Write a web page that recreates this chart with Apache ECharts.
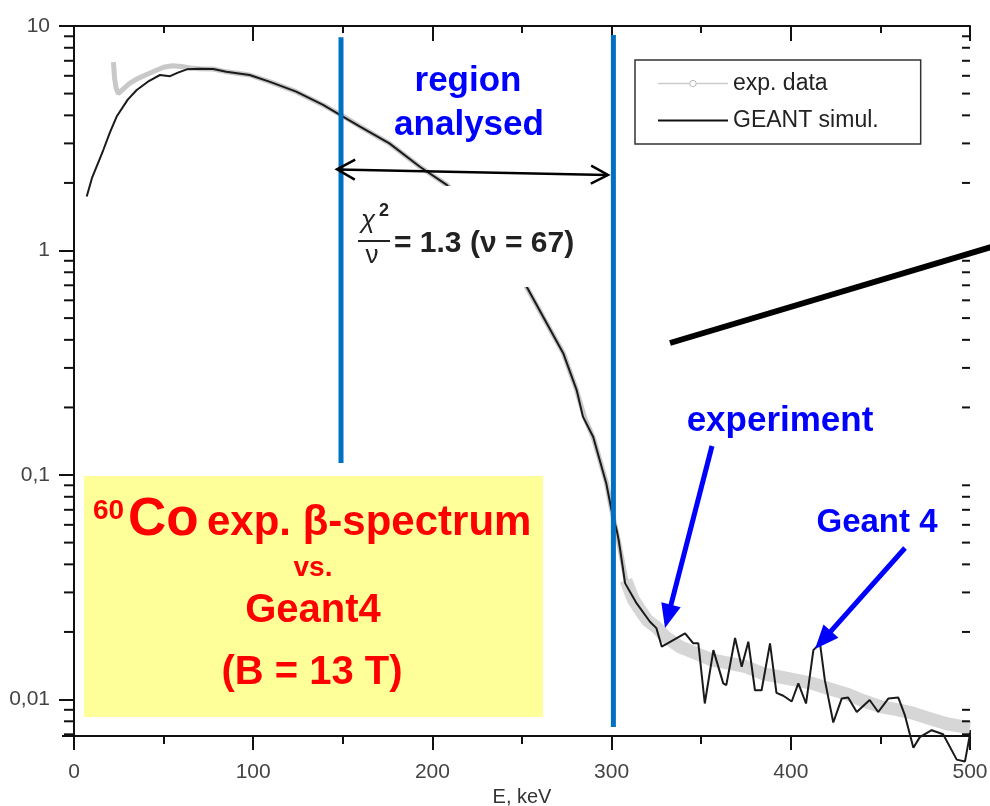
<!DOCTYPE html>
<html><head><meta charset="utf-8">
<script src="https://cdn.jsdelivr.net/npm/echarts@6/dist/echarts.min.js"></script>
<style>html,body{margin:0;padding:0;background:#fff}#c{width:990px;height:806px}</style>
</head><body><div id="c"></div>
<script>
// ---- data ----
const geantE = [7.1,10,16.4,20,23.8,30,35,42,48,53.6,58,63,70,77.7,85,98,109,124,139,148.4,159.6,176,193,208,222,237,252.6,263.8,273,280.5,284,289.7,297,300,303,304,306,307.5,314,321.4,325,328,334.4,341,345.6,348.4,352,356.8,362.3,364,368.9,372.6,376.3,380,383.7,388.4,392,395.8,400.5,404.2,408.5,412.6,416.3,419,423.7,428.4,432,436.8,444,448.8,454.4,460,463.7,468.4,472,478.6,485,492.6,497.2,500.4,505.6];
const geantV = [1.74,2.1,2.81,3.35,3.95,4.7,5.19,5.7,6.05,5.98,6.2,6.41,6.45,6.43,6.25,6.05,5.65,5.1,4.45,4.02,3.56,3.0,2.36,1.96,1.55,1.1,0.69,0.474,0.349,0.239,0.182,0.148,0.092,0.0695,0.056,0.051,0.04,0.033,0.0268,0.0222,0.0208,0.0172,0.0184,0.0197,0.0178,0.0178,0.0096,0.0166,0.0118,0.0116,0.0188,0.014,0.0181,0.011,0.011,0.0178,0.0107,0.0104,0.0098,0.0118,0.0096,0.0166,0.0178,0.0122,0.0079,0.0101,0.0102,0.0088,0.00995,0.0088,0.0101,0.0102,0.0085,0.0061,0.0068,0.0073,0.0070,0.0054,0.0053,0.0073,0.0049];
const expE = [22,22.3,22.7,23.5,24.7,27,31,35,39,45,50,55,60,65,70,77.7,85,98,109,124,139,150,160,176,193,208,222,237,252,264,273,280,285,290,297,300,304,308,312];
const expV = [6.9,6.4,5.8,5.3,5.0,5.2,5.55,5.8,6.0,6.3,6.55,6.65,6.6,6.5,6.45,6.43,6.25,6.05,5.65,5.1,4.45,3.98,3.55,3.0,2.36,1.96,1.55,1.1,0.7,0.47,0.35,0.245,0.18,0.145,0.093,0.07,0.05,0.034,0.028];
const expTailE = [308,312,316,320,325,330,338,346,356,366,375,385,394,403,412,421,431,440,450,460,468,478,487,495,500];
const expTailV = [0.034,0.028,0.025,0.0225,0.021,0.019,0.0172,0.0162,0.015,0.0145,0.014,0.013,0.0126,0.0122,0.0118,0.0112,0.0106,0.0099,0.0093,0.009,0.0087,0.0082,0.0078,0.0076,0.0075];
const yTickLabels = ['0,01','0,1','1','10'];
const yMinorTicks = [0.007,0.008,0.009,0.02,0.03,0.04,0.05,0.06,0.07,0.08,0.09,0.2,0.3,0.4,0.5,0.6,0.7,0.8,0.9,2,3,4,5,6,7,8,9];
const regionE = [149, 301];
const regionLineV = [[8.91, 0.113],[9.12, 0.00755]];
const yMin = 0.00688, yMax = 10;

const FONT = 'Liberation Sans, Arial, sans-serif';
const zip = (a,b) => a.map((v,i)=>[v,b[i]]);

function arrow(x1,y1,x2,y2,hl,hw,color,w,z){
  const dx=x2-x1, dy=y2-y1, L=Math.hypot(dx,dy), ux=dx/L, uy=dy/L;
  const bx=x2-ux*hl, by=y2-uy*hl;
  return [
    {type:'line', z:z, shape:{x1:x1,y1:y1,x2:bx+ux*2,y2:by+uy*2}, style:{stroke:color,lineWidth:w}},
    {type:'polygon', z:z, shape:{points:[[x2,y2],[bx-uy*hw/2,by+ux*hw/2],[bx+uy*hw/2,by-ux*hw/2]]}, style:{fill:color}}
  ];
}
function chevron(tx,ty,dirx,diry,len,half){
  const L=Math.hypot(dirx,diry), ux=dirx/L, uy=diry/L;
  const bx=tx-ux*len, by=ty-uy*len;
  return {type:'polyline', z:40, shape:{points:[[bx-uy*half,by+ux*half],[tx,ty],[bx+uy*half,by-ux*half]]}, style:{stroke:'#000',lineWidth:2.5,fill:null}};
}

const chart = echarts.init(document.getElementById('c'), null, {renderer:'canvas'});
const axisCommon = {axisLine:{lineStyle:{color:'#111',width:2}}, splitLine:{show:false}};
const graphics = [
  {type:'rect', z:10, shape:{x:345,y:186,width:258,height:101}, style:{fill:'#fff'}},
  {type:'rect', z:10, shape:{x:84,y:476,width:459,height:241}, style:{fill:'#FFFF99'}},
  // region analysed
  {type:'text', z:40, x:468, y:81, style:{text:'region', font:'bold 35px '+FONT, fill:'#0000ff', align:'center', verticalAlign:'middle'}},
  {type:'text', z:40, x:469, y:125, style:{text:'analysed', font:'bold 35px '+FONT, fill:'#0000ff', align:'center', verticalAlign:'middle'}},
  // double arrow
  {type:'line', z:40, shape:{x1:338,y1:169.5,x2:607,y2:175}, style:{stroke:'#000',lineWidth:2.5}},
  chevron(337,169.3,-1,-0.02,18,10),
  chevron(608,175,1,0.02,17,9),
  // chi^2/nu
  {type:'text', z:40, x:368, y:221, style:{text:'χ', font:'italic 26px '+FONT, fill:'#222', align:'center', verticalAlign:'middle'}},
  {type:'text', z:40, x:384, y:211, style:{text:'2', font:'bold 18px '+FONT, fill:'#222', align:'center', verticalAlign:'middle'}},
  {type:'line', z:40, shape:{x1:358,y1:241,x2:390,y2:241}, style:{stroke:'#222',lineWidth:2}},
  {type:'text', z:40, x:372, y:256, style:{text:'ν', font:'26px '+FONT, fill:'#222', align:'center', verticalAlign:'middle'}},
  {type:'text', z:40, x:394, y:244, style:{text:'= 1.3 (ν = 67)', font:'bold 30px '+FONT, fill:'#222', align:'left', verticalAlign:'middle'}},
  // thick black line
  {type:'line', z:40, shape:{x1:670,y1:343,x2:995,y2:246}, style:{stroke:'#000',lineWidth:6}},
  // blue labels
  {type:'text', z:40, x:780, y:421, style:{text:'experiment', font:'bold 35px '+FONT, fill:'#0000ff', align:'center', verticalAlign:'middle'}},
  {type:'text', z:40, x:877, y:523, style:{text:'Geant 4', font:'bold 33px '+FONT, fill:'#0000ff', align:'center', verticalAlign:'middle'}},
  ...arrow(712,446,665,628,24,20,'#0000ff',5,40),
  ...arrow(905,548,815,649,24,20,'#0000ff',5,40),
  // yellow box texts
  {type:'text', z:40, x:93, y:511, style:{text:'60', font:'bold 28px '+FONT, fill:'#ff0000', align:'left', verticalAlign:'middle'}},
  {type:'text', z:40, x:128, y:520, style:{text:'Co', font:'bold 53px '+FONT, fill:'#ff0000', align:'left', verticalAlign:'middle'}},
  {type:'text', z:40, x:207, y:523, style:{text:'exp. β-spectrum', font:'bold 42px '+FONT, fill:'#ff0000', align:'left', verticalAlign:'middle'}},
  {type:'text', z:40, x:313, y:568, style:{text:'vs.', font:'bold 28px '+FONT, fill:'#ff0000', align:'center', verticalAlign:'middle'}},
  {type:'text', z:40, x:313, y:611, style:{text:'Geant4', font:'bold 40px '+FONT, fill:'#ff0000', align:'center', verticalAlign:'middle'}},
  {type:'text', z:40, x:312, y:673, style:{text:'(B = 13 T)', font:'bold 40px '+FONT, fill:'#ff0000', align:'center', verticalAlign:'middle'}}
];

chart.setOption({
  animation:false,
  backgroundColor:'#fff',
  grid:{left:74,right:20,top:26,bottom:70, containLabel:false, outerBoundsMode:'none'},
  legend:{
    orient:'vertical', left:635, top:60, padding:[12,42,12,22],
    itemWidth:70, itemHeight:8, itemGap:14,
    borderColor:'#333', borderWidth:1.5,
    textStyle:{fontSize:23, color:'#222', fontFamily:FONT},
    data:[
      {name:'exp. data', lineStyle:{color:'#cccccc', width:1.5}, itemStyle:{color:'#fff', borderColor:'#bbb', borderWidth:1}},
      {name:'GEANT simul.', lineStyle:{color:'#111', width:2}, itemStyle:{opacity:0}}
    ]
  },
  xAxis:[
    Object.assign({type:'value', position:'bottom', min:0, max:500, interval:100,
      name:'E, keV', nameLocation:'middle', nameGap:50, nameTextStyle:{fontSize:20, color:'#333', fontFamily:FONT},
      axisTick:{show:true, inside:false, length:14, lineStyle:{color:'#111',width:2}},
      minorTick:{show:true, splitNumber:2, length:8, lineStyle:{color:'#111',width:2}},
      axisLabel:{fontSize:21, color:'#444', margin:26, fontFamily:FONT}}, axisCommon),
    Object.assign({type:'value', position:'top', min:0, max:500, interval:100,
      axisTick:{show:true, inside:true, length:15, lineStyle:{color:'#111',width:2}},
      minorTick:{show:true, splitNumber:2, length:7, lineStyle:{color:'#111',width:2}},
      axisLabel:{show:false}}, axisCommon)
  ],
  yAxis:[
    Object.assign({type:'log', logBase:10, min:yMin, max:yMax, position:'left',
      axisTick:{show:true, inside:false, length:15, lineStyle:{color:'#111',width:2}},
      axisLabel:{fontSize:21, color:'#444', margin:24, fontFamily:FONT, showMinLabel:false,
        formatter:function(v){const l=Math.log10(v), e=Math.round(l); if(Math.abs(l-e)>1e-6) return ''; return yTickLabels[e+2]||'';}}}, axisCommon),
    Object.assign({type:'log', logBase:10, min:yMin, max:yMax, position:'right',
      axisTick:{show:true, inside:true, length:12, lineStyle:{color:'#111',width:2}},
      axisLabel:{show:false}}, axisCommon)
  ],
  series:[
    {name:'exp. data', type:'line', data:zip(expE,expV), symbol:'circle', symbolSize:5, showSymbol:false, clip:false, z:2,
      lineStyle:{color:'#c8c8c8', width:5}, itemStyle:{color:'#c8c8c8'}, silent:true},
    {name:'exp. data', type:'line', data:zip(expTailE,expTailV), symbol:'circle', symbolSize:5, showSymbol:false, clip:false, z:2,
      lineStyle:{color:'#d2d2d2', width:13, opacity:0.9}, itemStyle:{color:'#c8c8c8'}, silent:true},
    {name:'GEANT simul.', type:'line', data:zip(geantE,geantV), symbol:'none', clip:false, z:3,
      lineStyle:{color:'#1a1a1a', width:2}, itemStyle:{color:'#1a1a1a'}, silent:true},
    {name:'region start', type:'line', data:[[regionE[0],regionLineV[0][0]],[regionE[0],regionLineV[0][1]]], symbol:'none', clip:false, z:20,
      lineStyle:{color:'#0070C0', width:5}, silent:true},
    {name:'region end', type:'line', data:[[regionE[1],regionLineV[1][0]],[regionE[1],regionLineV[1][1]]], symbol:'none', clip:false, z:20,
      lineStyle:{color:'#0070C0', width:5}, silent:true},
    {name:'minor ticks', type:'custom', data:yMinorTicks.map(v=>[0,v]), clip:false, z:5, silent:true,
      renderItem:function(params, api){
        const v = api.value(1);
        const p = api.coord([0, v]), q = api.coord([500, v]);
        return {type:'group', children:[
          {type:'line', shape:{x1:p[0]-10,y1:p[1],x2:p[0],y2:p[1]}, style:{stroke:'#111',lineWidth:2}},
          {type:'line', shape:{x1:q[0]-8,y1:q[1],x2:q[0],y2:q[1]}, style:{stroke:'#111',lineWidth:2}}
        ]};
      }}
  ],
  graphic:{elements:graphics}
});
</script></body></html>
